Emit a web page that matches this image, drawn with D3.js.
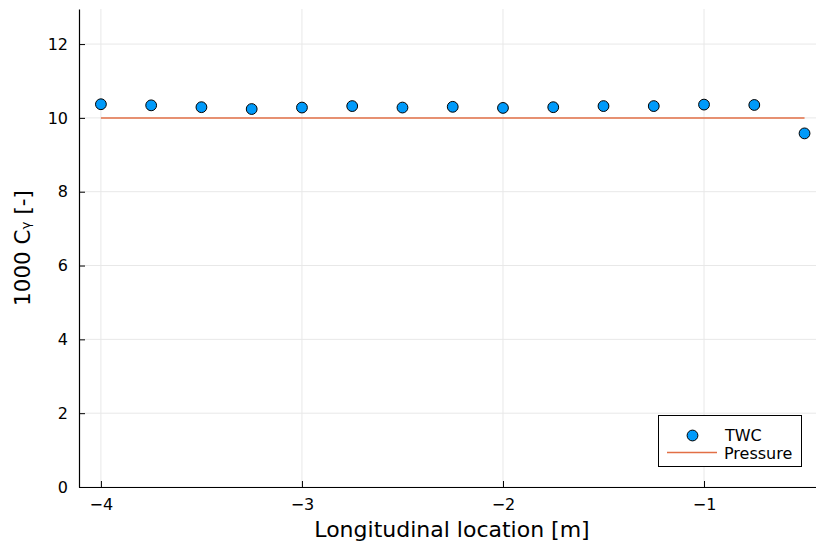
<!DOCTYPE html>
<html>
<head>
<meta charset="utf-8">
<script src="https://cdn.jsdelivr.net/npm/d3@7"></script>
<style>
  body { margin: 0; background: #fff; }
  svg { font-family: "DejaVu Sans", sans-serif; }
</style>
</head>
<body>
<svg id="chart" width="816" height="542"></svg>
<script>
// data
const xLoc = [-4, -3.75, -3.5, -3.25, -3, -2.75, -2.5, -2.25, -2, -1.75, -1.5, -1.25, -1, -0.75, -0.5];
const twc = [10.37, 10.34, 10.29, 10.24, 10.28, 10.32, 10.28, 10.30, 10.27, 10.29, 10.32, 10.32, 10.36, 10.35, 9.58];
const pressureX = [-4, -0.5];
const pressureY = [10.0, 10.0];
const xTicks = [-4, -3, -2, -1];
const yTicks = [0, 2, 4, 6, 8, 10, 12];

const svg = d3.select("#chart");
const pLeft = 79, pRight = 816, pTop = 9, pBottom = 487;

const x = d3.scaleLinear().domain([-4.109, -0.443]).range([pLeft, pRight]);
const y = d3.scaleLinear().domain([0, 12.95]).range([pBottom, pTop]);

// grid
svg.append("g").selectAll("line").data(xTicks).enter().append("line")
  .attr("x1", d => x(d)).attr("x2", d => x(d))
  .attr("y1", pTop).attr("y2", pBottom)
  .attr("stroke", "#e8e8e8").attr("stroke-width", 1);
svg.append("g").selectAll("line").data(yTicks).enter().append("line")
  .attr("x1", pLeft).attr("x2", pRight)
  .attr("y1", d => y(d)).attr("y2", d => y(d))
  .attr("stroke", "#e8e8e8").attr("stroke-width", 1);

// axes
const fmt = d => d < 0 ? "\u2212" + Math.abs(d) : String(d);
const xAxis = svg.append("g").attr("transform", `translate(0,${pBottom})`)
  .call(d3.axisBottom(x).tickValues(xTicks).tickSizeInner(-6).tickSizeOuter(0).tickPadding(12).tickFormat(fmt));
const yAxis = svg.append("g").attr("transform", `translate(${pLeft},0)`)
  .call(d3.axisLeft(y).tickValues(yTicks).tickSizeInner(-6).tickSizeOuter(0).tickPadding(11).tickFormat(fmt));
[xAxis, yAxis].forEach(a => {
  a.attr("font-size", 16).attr("font-family", "DejaVu Sans, sans-serif");
  a.select(".domain").attr("stroke", "#000").attr("stroke-width", 1.2);
  a.selectAll(".tick line").attr("stroke", "#000").attr("stroke-width", 1);
  a.selectAll("text").style("font-size", "16px").attr("fill", "#000");
});

// pressure line
const line = d3.line().x((d, i) => x(pressureX[i])).y(d => y(d));
svg.append("path").datum(pressureY)
  .attr("d", line).attr("fill", "none")
  .attr("stroke", "#E26F46").attr("stroke-width", 1.5);

// TWC points
svg.append("g").selectAll("circle").data(twc).enter().append("circle")
  .attr("cx", (d, i) => x(xLoc[i])).attr("cy", d => y(d)).attr("r", 5.4)
  .attr("fill", "#009AFA").attr("stroke", "#000").attr("stroke-width", 1);

// axis labels
svg.append("text").attr("x", 452).attr("y", 537)
  .attr("text-anchor", "middle").attr("font-size", 22).text("Longitudinal location [m]");
svg.append("text").attr("transform", "translate(30,248) rotate(-90)")
  .attr("text-anchor", "middle").attr("font-size", 21.5).text("1000 C\u1D67 [-]");

// legend
const lg = svg.append("g");
lg.append("rect").attr("x", 658.5).attr("y", 415.5).attr("width", 143).attr("height", 51)
  .attr("fill", "#fff").attr("stroke", "#000").attr("stroke-width", 1);
lg.append("circle").attr("cx", 692.5).attr("cy", 435.5).attr("r", 5.4)
  .attr("fill", "#009AFA").attr("stroke", "#000").attr("stroke-width", 1);
lg.append("line").attr("x1", 667).attr("x2", 717).attr("y1", 452.5).attr("y2", 452.5)
  .attr("stroke", "#E26F46").attr("stroke-width", 1.5);
lg.append("text").attr("x", 725).attr("y", 441).attr("font-size", 16).text("TWC");
lg.append("text").attr("x", 724).attr("y", 459).attr("font-size", 16).text("Pressure");
</script>
</body>
</html>
